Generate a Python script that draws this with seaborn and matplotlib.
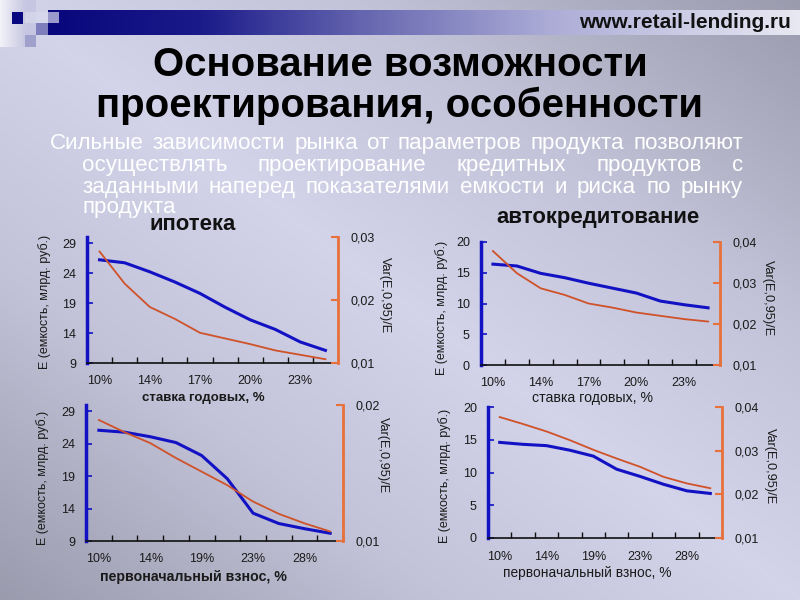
import numpy as np
import pandas as pd
import matplotlib
matplotlib.use("Agg")
import matplotlib.pyplot as plt
import seaborn as sns
from matplotlib.colors import LinearSegmentedColormap
from matplotlib.patches import Rectangle

plt.rcParams['font.family'] = ['Liberation Sans', 'DejaVu Sans']

# ---------------- data ----------------
rate_ipoteka_labels = ["10%", "", "14%", "", "17%", "", "20%", "", "23%", ""]
rate_ipoteka_E = [26.2, 25.7, 24.2, 22.5, 20.6, 18.3, 16.2, 14.6, 12.5, 11.1]
rate_ipoteka_V = [0.0277, 0.0226, 0.0189, 0.0170, 0.0148, 0.0139, 0.0130, 0.0120, 0.0113, 0.0106]

rate_auto_labels = ["10%", "", "14%", "", "17%", "", "20%", "", "23%", ""]
rate_auto_E = [16.4, 16.1, 14.9, 14.2, 13.3, 12.5, 11.7, 10.4, 9.8, 9.3]
rate_auto_V = [0.0378, 0.0324, 0.0287, 0.0271, 0.0250, 0.0240, 0.0228, 0.0220, 0.0212, 0.0206]

down_ipoteka_labels = ["10%", "", "14%", "", "19%", "", "23%", "", "28%", ""]
down_ipoteka_E = [26.1, 25.8, 25.1, 24.2, 22.2, 18.6, 13.3, 11.7, 10.9, 10.2]
down_ipoteka_V = [0.0189, 0.0180, 0.0172, 0.0161, 0.0151, 0.0141, 0.0129, 0.0120, 0.0113, 0.0107]

down_auto_labels = ["10%", "", "14%", "", "19%", "", "23%", "", "28%", ""]
down_auto_E = [14.6, 14.3, 14.1, 13.4, 12.5, 10.5, 9.4, 8.2, 7.2, 6.8]
down_auto_V = [0.0377, 0.0361, 0.0344, 0.0324, 0.0302, 0.0282, 0.0263, 0.0240, 0.0225, 0.0214]

ipoteka_left_ticks = [9, 14, 19, 24, 29]
auto_left_ticks = [0, 5, 10, 15, 20]
rate_ipoteka_right_ticks = [0.01, 0.02, 0.03]
down_ipoteka_right_ticks = [0.01, 0.02]
auto_right_ticks = [0.01, 0.02, 0.03, 0.04]

title_lines = ["Основание возможности", "проектирования, особенности"]
body_lines = ["Сильные зависимости рынка от параметров продукта позволяют",
              "осуществлять проектирование кредитных продуктов с",
              "заданными наперед показателями емкости и риска по рынку",
              "продукта"]
url_text = "www.retail-lending.ru"
sub_ipoteka = "ипотека"
sub_auto = "автокредитование"
ylabel_left = "Е (емкость, млрд. руб.)"
ylabel_right = "Var(E,0,95)/E"
xlabel_rate = "ставка годовых, %"
xlabel_down = "первоначальный взнос, %"

# ---------------- figure ----------------
W, H = 800, 600
fig = plt.figure(figsize=(8, 6), dpi=100)
renderer = fig.canvas.get_renderer()

bg = fig.add_axes([0, 0, 1, 1])
bg.axis('off')
yy, xx = np.mgrid[0:1:300j, 0:1:400j]
t = np.abs(xx - yy)
cmap_bg = LinearSegmentedColormap.from_list('bg', [(0, '#d3d3e9'), (0.45, '#c2c2d8'), (1, '#9b9bae')])
bg.imshow(t, cmap=cmap_bg, extent=[0, W, H, 0], aspect='auto', vmin=0, vmax=1, zorder=0)
bg.set_xlim(0, W)
bg.set_ylim(H, 0)

# header bar
cmap_bar = LinearSegmentedColormap.from_list('bar', [(0, '#08087c'), (0.2, '#1a1a8a'),
                                                    (0.42, '#6666b0'), (0.66, '#aaaad6'),
                                                    (1, '#e8e8f2')])
bg.imshow(np.linspace(0, 1, 300)[None, :], cmap=cmap_bar, extent=[48, W, 35, 10],
          aspect='auto', zorder=1)
col = np.linspace(0, 1, 50)[None, :]
cmap_col = LinearSegmentedColormap.from_list('col', ['#f2f2f8', '#c8c8e2'])
bg.imshow(col, cmap=cmap_col, extent=[0, 25, 47, 0], aspect='auto', zorder=1)
squares = [(12, 12, 11, 12, '#0a0a80'), (25, 0, 11, 12, '#c6c6e2'),
           (36, 12, 12, 11, '#d6d6ec'), (48, 12, 11, 11, '#9a9acc'),
           (36, 23, 12, 12, '#7e7ebc'), (25, 23, 11, 12, '#c6c6e2'),
           (25, 35, 11, 12, '#a0a0cc')]
for (sx, sy, sw, sh, sc) in squares:
    bg.add_patch(Rectangle((sx, sy), sw, sh, facecolor=sc, edgecolor='none', zorder=2))
bg.set_xlim(0, W)
bg.set_ylim(H, 0)


def text_width(s, fs, weight='normal'):
    tt = fig.text(0, 0, s, fontsize=fs, fontweight=weight)
    w = tt.get_window_extent(renderer).width
    tt.remove()
    return w


def fit_size(s, target, weight='normal'):
    return 10 * target / text_width(s, 10, weight)


# url
fs_url = fit_size(url_text, 212, 'bold')
bg.text(791, 22, url_text, fontsize=fs_url, fontweight='bold', color='#111111',
        ha='right', va='center', zorder=3)

# title
fs_title = fit_size(title_lines[1], 605, 'bold')
bg.text(400, 76, title_lines[0], fontsize=fs_title, fontweight='bold', color='black',
        ha='center', va='baseline', zorder=3)
bg.text(400, 117, title_lines[1], fontsize=fs_title, fontweight='bold', color='black',
        ha='center', va='baseline', zorder=3)

# body, justified
fs_body = fit_size(body_lines[0], 680)


def justify(line, x0, x1, yb, fs):
    words = line.split()
    ws = [text_width(w, fs) for w in words]
    gap = (x1 - x0 - sum(ws)) / (len(words) - 1)
    x = x0
    for w, wd in zip(words, ws):
        bg.text(x, yb, w, fontsize=fs, color='white', ha='left', va='baseline', zorder=3)
        x += wd + gap


justify(body_lines[0], 50, 743, 149, fs_body)
justify(body_lines[1], 82, 743, 171, fs_body)
justify(body_lines[2], 82, 743, 193, fs_body)
bg.text(82, 213, body_lines[3], fontsize=fs_body, color='white', ha='left', va='baseline', zorder=3)

# subtitles
fs_sub = fit_size(sub_auto, 203, 'bold')
bg.text(193, 224, sub_ipoteka, fontsize=fs_sub, fontweight='bold', color='#111111',
        ha='center', va='center', zorder=4)
bg.text(598, 217, sub_auto, fontsize=fs_sub, fontweight='bold', color='#111111',
        ha='center', va='center', zorder=4)

BLUE = '#1212c4'
RED = '#cf5229'
ORANGE = '#e8703a'
TXT = '#1a1a1a'


def chart(px, labels, e, v, ylim_l, yt_l, ylim_r, yt_r):
    x0, x1, ytop, ybot = px
    ax = fig.add_axes([x0 / W, 1 - ybot / H, (x1 - x0) / W, (ybot - ytop) / H])
    ax.patch.set_alpha(0)
    n = len(labels)
    pos = np.arange(n)
    df = pd.DataFrame({'pos': pos, 'E': e, 'V': v})
    sns.lineplot(data=df, x='pos', y='E', ax=ax, color=BLUE, lw=2.2)
    ax2 = ax.twinx()
    ax2.patch.set_alpha(0)
    sns.lineplot(data=df, x='pos', y='V', ax=ax2, color=RED, lw=1.3)
    ax.set_xlim(-0.5, n - 0.5)
    ax.set_ylim(*ylim_l)
    ax.set_yticks(yt_l)
    ax.set_yticklabels([str(k) for k in yt_l])
    ax2.set_ylim(*ylim_r)
    ax2.set_yticks(yt_r)
    ax2.set_yticklabels([f"{k:.2f}".replace('.', ',') for k in yt_r])
    ax.set_xticks(np.arange(-0.5, n, 1.0))
    ax.set_xticklabels([])
    ax.set_xticks(pos, minor=True)
    ax.set_xticklabels(labels, minor=True)
    ax.tick_params(axis='x', which='major', direction='in', length=4, width=1,
                   color='#111111', bottom=True)
    ax.tick_params(axis='x', which='minor', length=0, pad=9, labelsize=9,
                   labelcolor=TXT, bottom=True)
    ax.tick_params(axis='y', direction='in', length=4, width=1.2, color=BLUE,
                   labelsize=9, labelcolor=TXT, pad=8, left=True)
    ax2.tick_params(axis='y', direction='in', length=5, width=1.5, color=ORANGE,
                    labelsize=9, labelcolor=TXT, pad=9, right=True)
    for s in ['top', 'right']:
        ax.spines[s].set_visible(False)
    ax.spines['left'].set_color(BLUE)
    ax.spines['left'].set_linewidth(2.5)
    ax.spines['bottom'].set_color('#111111')
    ax.spines['bottom'].set_linewidth(1.2)
    for s in ['top', 'left', 'bottom']:
        ax2.spines[s].set_visible(False)
    ax2.spines['right'].set_color(ORANGE)
    ax2.spines['right'].set_linewidth(2)
    ax.set_xlabel('')
    ax.set_ylabel('')
    ax2.set_ylabel('')
    ax.grid(False)
    ax2.grid(False)
    return ax, ax2


chart((87, 338, 237, 363), rate_ipoteka_labels, rate_ipoteka_E, rate_ipoteka_V,
      (9, 30), ipoteka_left_ticks, (0.01, 0.03), rate_ipoteka_right_ticks)
chart((481, 720, 242, 365), rate_auto_labels, rate_auto_E, rate_auto_V,
      (0, 20), auto_left_ticks, (0.01, 0.04), auto_right_ticks)
chart((86, 343, 405, 541), down_ipoteka_labels, down_ipoteka_E, down_ipoteka_V,
      (9, 30), ipoteka_left_ticks, (0.01, 0.02), down_ipoteka_right_ticks)
chart((488, 722, 407, 538), down_auto_labels, down_auto_E, down_auto_V,
      (0, 20), auto_left_ticks, (0.01, 0.04), auto_right_ticks)

# axis titles
fs_yl = fit_size(ylabel_left, 135)
fs_yr = fit_size(ylabel_right, 76)
for (x, y) in [(45, 302), (442, 308), (43, 478), (445, 476)]:
    bg.text(x, y, ylabel_left, fontsize=fs_yl, color=TXT, rotation=90,
            ha='center', va='center', zorder=3)
for (x, y) in [(385, 295), (768, 298), (383, 455), (770, 466)]:
    bg.text(x, y, ylabel_right, fontsize=fs_yr, color=TXT, rotation=-90,
            ha='center', va='center', zorder=3)
for (x, y, s, w, wt) in [(203, 398, xlabel_rate, 123, 'bold'), (592, 398, xlabel_rate, 121, 'normal'),
                         (193, 577, xlabel_down, 185, 'bold'), (587, 573, xlabel_down, 167, 'normal')]:
    bg.text(x, y, s, fontsize=fit_size(s, w, wt), fontweight=wt, color=TXT,
            ha='center', va='center', zorder=3)

fig.savefig("out.png", dpi=100)
